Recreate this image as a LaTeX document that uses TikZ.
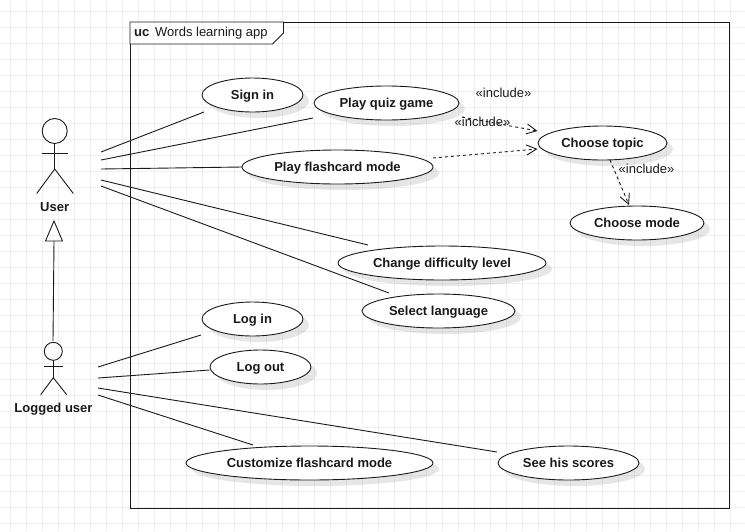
\documentclass[tikz,border=0pt]{standalone}
\usepackage{fontspec}
\setmainfont{Liberation Sans}
\usetikzlibrary{shapes.geometric,shadows,arrows.meta}
\definecolor{gridc}{HTML}{F0F0F0}
\definecolor{ink}{HTML}{1A1A1A}
\tikzset{
  x=1pt,y=-1pt,
  usecase/.style={ellipse,draw=ink,line width=.9pt,fill=white,inner sep=0pt,outer sep=0pt,
    text height=11pt,text depth=2pt,
    font=\fontsize{13}{15}\selectfont\bfseries,text=ink,
    drop shadow={shadow xshift=6pt,shadow yshift=-6pt,fill=gray,opacity=.2}},
  assoc/.style={draw=ink,line width=.9pt},
  incl/.style={draw=ink,line width=.9pt,dash pattern=on 3pt off 3pt,-{Straight Barb[length=10pt,width=10pt]}},
  inclabel/.style={font=\fontsize{13}{15}\selectfont,text=ink,inner sep=0pt},
  actorlabel/.style={font=\fontsize{13}{15}\selectfont\bfseries,text=ink,inner sep=0pt,text height=11pt,text depth=2pt},
  limb/.style={draw=ink,line width=.9pt},
  head/.style={circle,draw=ink,line width=.9pt,inner sep=0pt,outer sep=0pt},
}
\newcommand{\uc}[6]{\node[usecase,minimum width=#3 pt,minimum height=#4 pt] (#1) at (#2) {#5};}
\begin{document}
\begin{tikzpicture}
\useasboundingbox (0,0) rectangle (745,531);
% grid
\foreach \k in {0,...,46} {\draw[gridc,line width=.9pt] (10.67+16*\k,0) -- (10.67+16*\k,531);}
\foreach \k in {0,...,32} {\draw[gridc,line width=.9pt] (0,11.7+16*\k) -- (745,11.7+16*\k);}
% frame
\node[draw=ink,line width=.9pt,inner sep=0pt,outer sep=0pt,minimum width=599pt,minimum height=486pt] (frame) at (429.5,265) {};
\draw[ink,line width=.9pt,fill=white] (130,22) -- (283.5,22) -- (283.5,33) -- (272.5,44) -- (130,44) -- cycle;
\node[anchor=base west,font=\fontsize{13}{15}\selectfont\bfseries,text=ink,inner sep=0pt] (uclabel) at (134,36) {uc};
\node[anchor=base west,font=\fontsize{13}{15}\selectfont,text=ink,inner sep=0pt] (title) at (155,36) {Words learning app};
% use cases
\uc{signin}{252.5,95}{101}{34}{Sign in}{}
\uc{quiz}{386.5,103}{145}{34}{Play quiz game}{}
\uc{flash}{337.5,167}{191}{34}{Play flashcard mode}{}
\uc{topic}{602.5,143}{129}{34}{Choose topic}{}
\uc{mode}{637,223}{134}{34}{Choose mode}{}
\uc{change}{442,263}{208}{34}{Change difficulty level}{}
\uc{select}{438.5,311}{153}{34}{Select language}{}
\uc{login}{252.5,319}{101}{34}{Log in}{}
\uc{logout}{260.5,367}{101}{34}{Log out}{}
\uc{custom}{309.5,463}{247}{34}{Customize flashcard mode}{}
\uc{scores}{568.5,463}{141}{34}{See his scores}{}
% user actor
\node[head,minimum size=25pt] (userhead) at (54.7,131) {};
\coordinate (userhip) at (54.7,169);
\draw[limb] (userhead.south) -- (userhip);
\draw[limb] (41.7,153) -- (67.7,153);
\draw[limb] (36.7,193.5) -- (userhip) -- (73.3,193.5);
\node[actorlabel] (user) at (54.7,206.5) {User};
% logged user actor
\node[head,minimum size=18pt] (logghead) at (53.3,351.3) {};
\coordinate (logghip) at (53.3,377.7);
\draw[limb] (logghead.south) -- (logghip);
\draw[limb] (44.3,366) -- (62.7,366);
\draw[limb] (40.7,394.7) -- (logghip) -- (66.7,394.7);
\node[actorlabel] (logged) at (53.5,407.5) {Logged user};
% generalisation
\coordinate (genfrom) at (53,341);
\coordinate (genbase) at (54,241);
\draw[assoc] (genfrom) -- (genbase);
\draw[limb] (54,221) -- (45.5,241) -- (62.5,241) -- cycle;
% ports
\coordinate (u1) at (101,152); \coordinate (u2) at (101,160); \coordinate (u3) at (101,169);
\coordinate (u4) at (101,180); \coordinate (u5) at (101,186);
\coordinate (l1) at (98,367); \coordinate (l2) at (98,378); \coordinate (l3) at (98,388); \coordinate (l4) at (98,395);
\coordinate (e1) at (204,112); \coordinate (e2) at (313,118); \coordinate (e4) at (368,245); \coordinate (e5) at (389,293);
\coordinate (e6) at (201,335); \coordinate (e7) at (209.5,370); \coordinate (e8) at (497,452); \coordinate (e9) at (253,445);
\draw[assoc] (u1) -- (e1);
\draw[assoc] (u2) -- (e2);
\draw[assoc] (u3) -- (flash.west);
\draw[assoc] (u4) -- (e4);
\draw[assoc] (u5) -- (e5);
\draw[assoc] (l1) -- (e6);
\draw[assoc] (l2) -- (e7);
\draw[assoc] (l3) -- (e8);
\draw[assoc] (l4) -- (e9);
% includes
\coordinate (d1) at (462,117); \coordinate (d2) at (433,158); \coordinate (d3) at (610,160);
\coordinate (t1) at (537.5,131); \coordinate (t2) at (537.5,149); \coordinate (t3) at (629,205);
\draw[incl] (d1) -- (t1);
\draw[incl] (d2) -- (t2);
\draw[incl] (d3) -- (t3);
\node[inclabel] (inc1) at (503.5,92.5) {«include»};
\node[inclabel] (inc2) at (482.5,122) {«include»};
\node[inclabel] (inc3) at (646.5,168.5) {«include»};
\end{tikzpicture}
\end{document}
